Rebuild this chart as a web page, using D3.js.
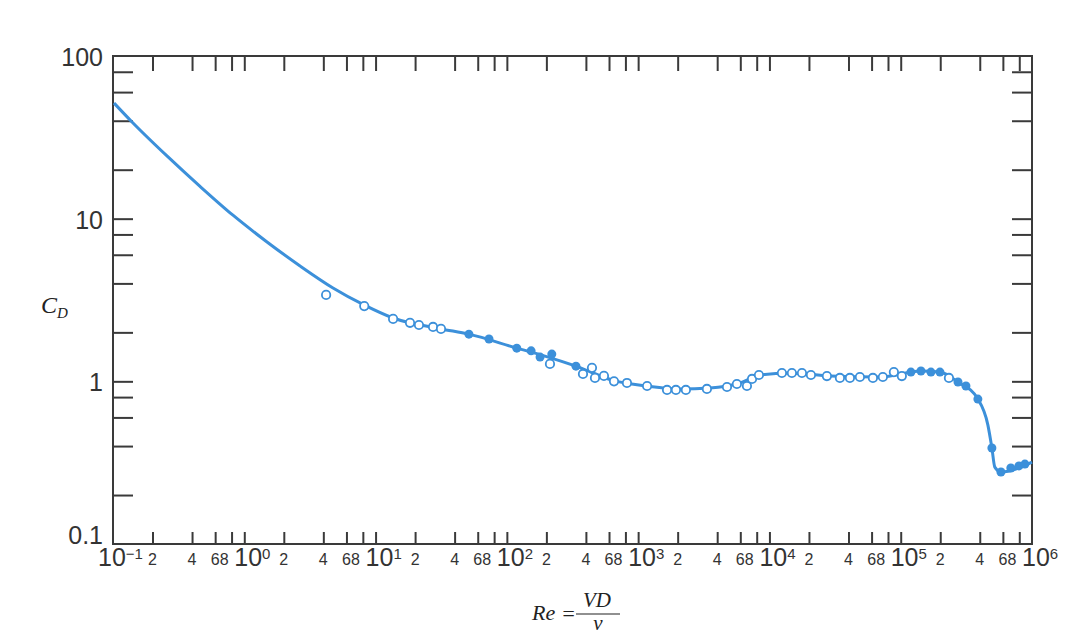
<!DOCTYPE html>
<html>
<head>
<meta charset="utf-8">
<script src="https://cdn.jsdelivr.net/npm/d3@7"></script>
<style>
  body { margin: 0; background: #fff; }
  .axis path { display: none; }
  .axis line { stroke: #3a3a3a; stroke-width: 2; }
  .lbl { font-family: "Liberation Sans", Arial, sans-serif; fill: #333; }
  .ttl { font-family: "Liberation Serif", "Times New Roman", serif; font-style: italic; fill: #222; }
</style>
</head>
<body>
<div class="demo"></div>
<script>
const w = 1086, h = 634;
const plotL = 113, plotR = 1032, plotT = 56, plotB = 544;
const blue = '#3c90da';

// drag curve (Re, C_D)
const curvePts = [
  [0.1018, 51.4], [0.1396, 39.3], [0.2576, 24.3], [0.46, 15.8], [0.82, 10.5],
  [1.49, 7.19], [2.66, 5.12], [4.74, 3.75], [8.16, 2.95], [13.6, 2.45],
  [31.5, 2.1], [51.4, 1.95], [119, 1.6], [195, 1.43], [336, 1.24],
  [655, 1.01], [1167, 0.936], [2080, 0.898], [3520, 0.91], [5960, 0.977],
  [8500, 1.094], [14300, 1.125], [29000, 1.078], [70000, 1.063], [142600, 1.158],
  [199000, 1.14], [273000, 0.99], [387000, 0.778], [461000, 0.54], [495000, 0.389],
  [521000, 0.297], [580000, 0.277], [1000000, 0.319]
];

// open circles
const openPts = [
  [4.2, 3.4], [8.2, 2.9], [13.6, 2.42], [18.3, 2.29], [21.4, 2.22], [27.4, 2.16],
  [31.5, 2.1], [213, 1.28], [380, 1.11], [445, 1.21], [469, 1.05], [549, 1.08],
  [655, 1.0], [822, 0.977], [1170, 0.936], [1660, 0.885], [1940, 0.885], [2310, 0.885],
  [3340, 0.898], [4750, 0.923], [5650, 0.963], [6740, 0.936], [7370, 1.034], [8320, 1.094],
  [12450, 1.125], [14830, 1.125], [17690, 1.125], [20710, 1.094], [27400, 1.078],
  [34430, 1.049], [41020, 1.049], [48870, 1.063], [61400, 1.049], [73100, 1.063],
  [88700, 1.14], [102000, 1.078], [233000, 1.049]
];

// filled circles
const filledPts = [
  [51.4, 1.95], [73.1, 1.82], [119, 1.6], [153, 1.54], [179, 1.41], [220, 1.47],
  [336, 1.24], [119600, 1.14], [142600, 1.158], [169900, 1.14], [199000, 1.14],
  [273000, 0.99], [314000, 0.936], [387000, 0.778], [495000, 0.389], [580000, 0.277],
  [690000, 0.293], [795000, 0.302], [883000, 0.31]
];

const decades = [-1, 0, 1, 2, 3, 4, 5, 6];
const minorMult = [2, 4, 6, 8];
const yDecades = [-1, 0, 1, 2];
const yLabels = ['0.1', '1', '10', '100'];

let xScale = d3.scaleLog().domain([0.1, 1e6]).range([plotL, plotR]);
let yScale = d3.scaleLog().domain([0.1, 100]).range([plotB, plotT]);

// tick values: 2,4,6,8,10 of every decade
let xTicks = [];
decades.slice(0, -1).forEach(function(k) {
  minorMult.forEach(function(m) { xTicks.push(m * Math.pow(10, k)); });
  xTicks.push(Math.pow(10, k + 1));
});
xTicks = xTicks.filter(function(d) { return d < 1e6 * 0.999; });
let yTicks = [];
yDecades.slice(0, -1).forEach(function(k) {
  minorMult.forEach(function(m) { yTicks.push(m * Math.pow(10, k)); });
  yTicks.push(Math.pow(10, k + 1));
});
yTicks = yTicks.filter(function(d) { return d < 99.9; });

let svg = d3.select('.demo').append('svg').attr('width', w).attr('height', h);

svg.append('g').attr('class', 'axis')
   .attr('transform', 'translate(0,' + plotB + ')')
   .call(d3.axisBottom(xScale).tickValues(xTicks).tickFormat('').tickSizeInner(-12).tickSizeOuter(0));
svg.append('g').attr('class', 'axis')
   .attr('transform', 'translate(0,' + plotT + ')')
   .call(d3.axisTop(xScale).tickValues(xTicks).tickFormat('').tickSizeInner(-15).tickSizeOuter(0));
svg.append('g').attr('class', 'axis')
   .attr('transform', 'translate(' + plotL + ',0)')
   .call(d3.axisLeft(yScale).tickValues(yTicks).tickFormat('').tickSizeInner(-20).tickSizeOuter(0));
svg.append('g').attr('class', 'axis')
   .attr('transform', 'translate(' + plotR + ',0)')
   .call(d3.axisRight(yScale).tickValues(yTicks).tickFormat('').tickSizeInner(-20).tickSizeOuter(0));

svg.append('rect')
   .attr('x', plotL).attr('y', plotT)
   .attr('width', plotR - plotL).attr('height', plotB - plotT)
   .attr('fill', 'none').attr('stroke', '#3a3a3a').attr('stroke-width', 2);

// x labels: 10^k and the 2 4 6 8 in between
let majors = svg.selectAll('text.major').data(decades).enter()
   .append('text').attr('class', 'lbl major')
   .attr('x', function(d) { return xScale(Math.pow(10, d)) - (d < 0 ? 15 : 10); })
   .attr('y', 566)
   .attr('font-size', 25);
majors.append('tspan').text('10');
majors.append('tspan').attr('font-size', 15).attr('dy', -7)
   .text(function(d) { return d < 0 ? '\u2212' + (-d) : d; });

let minorLbl = [];
decades.slice(0, -1).forEach(function(k) {
  minorMult.forEach(function(m) { minorLbl.push([m, m * Math.pow(10, k)]); });
});
// "6" and "8" are set as a tight pair, as in the original print
svg.selectAll('text.minor').data(minorLbl).enter()
   .append('text').attr('class', 'lbl minor')
   .attr('x', function(d) { return d[0] === 8 ? xScale(d[1] * 0.75) + 9 : xScale(d[1]); })
   .attr('y', 565)
   .attr('text-anchor', 'middle')
   .attr('font-size', 16)
   .text(function(d) { return d[0]; });

// y labels
svg.selectAll('text.ylbl').data(yDecades).enter()
   .append('text').attr('class', 'lbl ylbl')
   .attr('x', 103)
   .attr('y', function(d) { return Math.min(yScale(Math.pow(10, d)) + 10, plotB); })
   .attr('text-anchor', 'end')
   .attr('font-size', 25)
   .text(function(d, i) { return yLabels[i]; });

// axis titles
let cd = svg.append('text').attr('class', 'ttl').attr('x', 41).attr('y', 313).attr('font-size', 24);
cd.append('tspan').text('C');
cd.append('tspan').attr('font-size', 15).attr('dy', 5).text('D');

svg.append('text').attr('class', 'ttl').attr('x', 532).attr('y', 620).attr('font-size', 22).text('Re');
svg.append('text').attr('class', 'ttl').attr('x', 561).attr('y', 621).attr('font-size', 22)
   .attr('font-style', 'normal').text('=');
svg.append('text').attr('class', 'ttl').attr('x', 597).attr('y', 607).attr('font-size', 21)
   .attr('text-anchor', 'middle').text('VD');
svg.append('line').attr('x1', 576).attr('x2', 620).attr('y1', 614).attr('y2', 614)
   .attr('stroke', '#222').attr('stroke-width', 1.2);
svg.append('text').attr('class', 'ttl').attr('x', 598).attr('y', 630).attr('font-size', 21)
   .attr('text-anchor', 'middle').text('\u03bd');

// curve
let line = d3.line()
   .x(function(d) { return xScale(d[0]); })
   .y(function(d) { return yScale(d[1]); })
   .curve(d3.curveMonotoneX);

svg.append('path').datum(curvePts)
   .attr('d', line)
   .attr('fill', 'none').attr('stroke', blue).attr('stroke-width', 3);

svg.selectAll('circle.open').data(openPts).enter()
   .append('circle').attr('class', 'open')
   .attr('cx', function(d) { return xScale(d[0]); })
   .attr('cy', function(d) { return yScale(d[1]); })
   .attr('r', 4.2)
   .attr('fill', '#fff').attr('stroke', blue).attr('stroke-width', 1.8);

svg.selectAll('circle.filled').data(filledPts).enter()
   .append('circle').attr('class', 'filled')
   .attr('cx', function(d) { return xScale(d[0]); })
   .attr('cy', function(d) { return yScale(d[1]); })
   .attr('r', 4.5)
   .attr('fill', blue);
</script>
</body>
</html>
